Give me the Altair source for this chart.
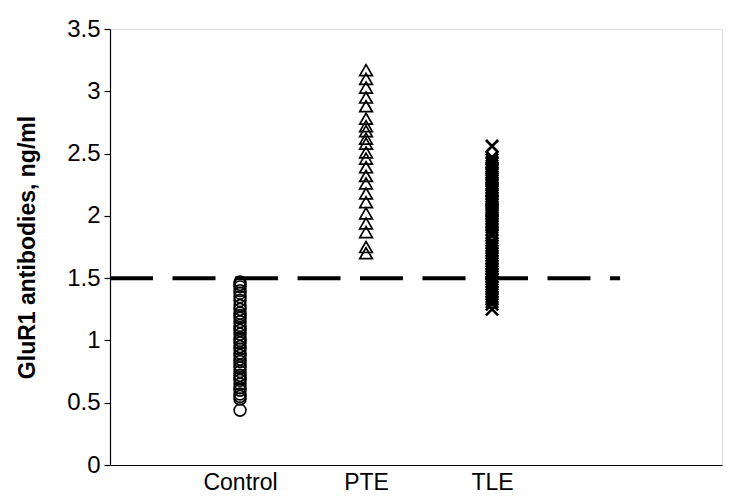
import altair as alt
import pandas as pd

groups = ["Control", "PTE", "TLE"]
group_pos = [1, 2, 3]

control_vals = [1.47, 1.45, 1.43, 1.40, 1.38, 1.35, 1.32, 1.28, 1.25, 1.22, 1.20, 1.18,
                1.15, 1.12, 1.10, 1.08, 1.05, 1.02, 1.00, 0.98, 0.95, 0.93, 0.90, 0.88,
                0.85, 0.83, 0.80, 0.78, 0.75, 0.72, 0.70, 0.68, 0.65, 0.62, 0.60, 0.57,
                0.55, 0.53, 0.44]
pte_vals = [3.17, 3.10, 3.03, 2.95, 2.88, 2.78, 2.72, 2.68, 2.62, 2.58, 2.51, 2.46,
            2.39, 2.32, 2.26, 2.18, 2.11, 2.02, 1.94, 1.87, 1.75, 1.70]
tle_vals = [2.56, 2.47, 2.45, 2.43, 2.42, 2.40, 2.38, 2.37, 2.35, 2.33, 2.31, 2.30,
            2.28, 2.26, 2.25, 2.23, 2.21, 2.20, 2.18, 2.16, 2.14, 2.12, 2.11, 2.09,
            2.07, 2.05, 2.04, 2.02, 2.00, 1.98, 1.96, 1.95, 1.93, 1.91, 1.89, 1.86,
            1.84, 1.80, 1.78, 1.76, 1.74, 1.72, 1.70, 1.68, 1.66, 1.64, 1.62, 1.60,
            1.58, 1.57, 1.55, 1.53, 1.51, 1.49, 1.47, 1.45, 1.43, 1.41, 1.39, 1.37,
            1.35, 1.33, 1.31, 1.29, 1.25]

threshold = 1.5
x_min, x_max = -0.032, 4.825
line_end = 4.016

df_c = pd.DataFrame({"x": group_pos[0], "v": control_vals})
df_p = pd.DataFrame({"x": group_pos[1], "v": pte_vals})
df_t = pd.DataFrame({"x": group_pos[2], "v": tle_vals})
df_line = pd.DataFrame({"x": [x_min], "x2": [line_end], "y": [threshold]})

xscale = alt.Scale(domain=[x_min, x_max], nice=False, zero=False)
yscale = alt.Scale(domain=[0, 3.5], nice=False)

label_expr = ("datum.value == 1 ? 'Control' : datum.value == 2 ? 'PTE' : "
              "datum.value == 3 ? 'TLE' : ''")

FONT = "Liberation Sans"

xax = alt.X("x:Q", scale=xscale,
            axis=alt.Axis(values=group_pos, labelExpr=label_expr, ticks=False,
                          grid=False, title=None, labelFontSize=23, labelPadding=6,
                          labelColor="black", domainColor="black", domainWidth=1.2,
                          labelFont=FONT))
yax = alt.Y("v:Q", scale=yscale,
            axis=alt.Axis(values=[0, 0.5, 1, 1.5, 2, 2.5, 3, 3.5], format="~g",
                          grid=False, title="GluR1 antibodies, ng/ml",
                          titleFontSize=23, titleFontWeight="bold", titleColor="black",
                          titleFont=FONT, titlePadding=27,
                          labelFontSize=24, labelColor="black", labelFont=FONT,
                          labelPadding=4, tickSize=6, tickColor="black",
                          domainColor="black", domainWidth=1.2, tickWidth=1.2))

line = alt.Chart(df_line).mark_rule(color="black", strokeWidth=4, strokeDash=[43, 19.5],
                                    strokeCap="butt").encode(
    x=alt.X("x:Q", scale=xscale), x2="x2:Q", y=alt.Y("y:Q", scale=yscale))

circles = alt.Chart(df_c).mark_point(shape="circle", filled=False, color="black",
                                     size=140, strokeWidth=1.6, opacity=1).encode(x=xax, y=yax)
tris = alt.Chart(df_p).mark_point(shape="triangle-up", filled=False, color="black",
                                  size=160, strokeWidth=1.7, opacity=1).encode(x=xax, y=yax)
crosses = alt.Chart(df_t).mark_point(shape="M-1,-1L1,1M-1,1L1,-1", filled=False,
                                     color="black", size=150, strokeWidth=2.6,
                                     opacity=1).encode(x=xax, y=yax)

chart = alt.layer(line, circles, tris, crosses).properties(
    width=612, height=436,
    autosize=alt.AutoSizeParams(type="none"),
    padding={"left": 102, "top": 21, "right": 5, "bottom": 33},
).configure_view(stroke=None).configure(background="white")

chart.save("out.html", embed_options={"renderer": "svg", "actions": False})
